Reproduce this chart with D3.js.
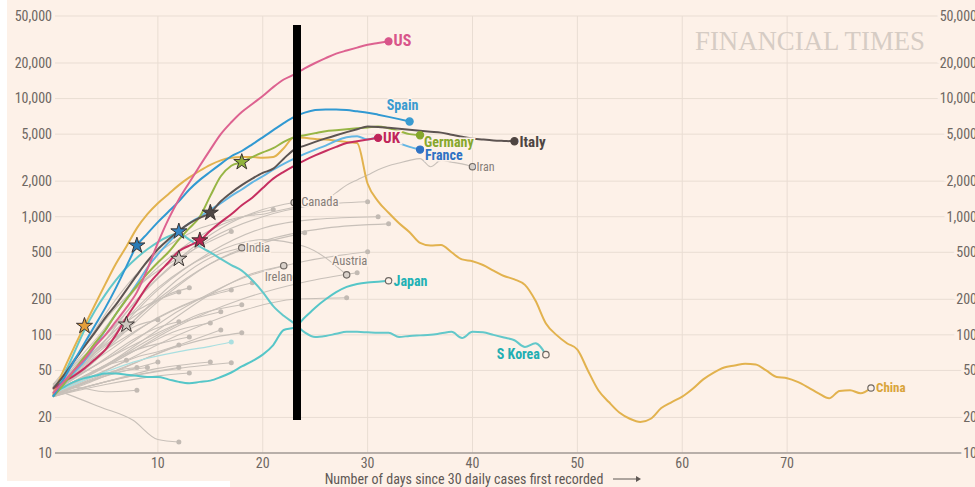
<!DOCTYPE html>
<html>
<head>
<meta charset="utf-8">
<script src="https://cdn.jsdelivr.net/npm/d3@7"></script>
<style>
	body { margin: 0; background: #fdf1e8; }
	svg { display: block; }
	text { font-family: "Liberation Sans Narrow", "Roboto Condensed", Roboto, sans-serif; }
</style>
</head>
<body>
<svg id="chart" width="975" height="487"></svg>
<script>
/**** DATA *****/
const yTicks = [10, 20, 50, 100, 200, 500, 1000, 2000, 5000, 10000, 20000, 50000];
const xTicks = [10, 20, 30, 40, 50, 60, 70];

// daily cases (3-day avg), index = days since 30 daily cases
const usCases = [32, 40, 50, 62, 80, 100, 130, 170, 230, 360, 600, 950, 1400, 1950, 2700, 3700, 5000, 6300, 7700, 9000, 10500, 12500, 14500, 16000, 18000, 20000, 22000, 24000, 25500, 27000, 28500, 29500, 30500];
const spainCases = [30, 42, 60, 85, 120, 170, 250, 380, 570, 720, 900, 1100, 1350, 1700, 2050, 2400, 2800, 3250, 3600, 4100, 4700, 5400, 6200, 7000, 7600, 8000, 8100, 8100, 8000, 7800, 7600, 7300, 7000, 6700, 6400];
const italyCases = [35, 45, 60, 80, 105, 140, 180, 240, 320, 420, 530, 640, 760, 880, 980, 1080, 1350, 1600, 1850, 2100, 2350, 2550, 3100, 3700, 4000, 4300, 4600, 4900, 5200, 5500, 5800, 5750, 5650, 5550, 5450, 5350, 5250, 5150, 4950, 4750, 4600, 4500, 4420, 4380, 4350];
const germanyCases = [30, 38, 50, 65, 85, 110, 150, 200, 260, 330, 410, 500, 640, 800, 1000, 1500, 2200, 2700, 2900, 3200, 3500, 3800, 4300, 4700, 4900, 5100, 5300, 5400, 5500, 5600, 5700, 5800, 5600, 5300, 5000, 4900];
const franceCases = [30, 38, 48, 60, 80, 110, 150, 200, 270, 370, 480, 600, 750, 880, 1000, 1150, 1300, 1500, 1700, 1950, 2200, 2500, 2800, 3100, 3400, 3700, 4000, 4400, 4700, 4800, 4500, 4700, 4600, 4200, 3900, 3700];
const ukCases = [35, 40, 45, 52, 62, 75, 100, 140, 190, 260, 330, 410, 510, 570, 630, 760, 900, 1050, 1250, 1450, 1750, 2100, 2400, 2700, 3000, 3300, 3600, 3900, 4200, 4350, 4500, 4650];
const chinaCases = [31, 50, 78, 119, 180, 270, 400, 560, 800, 1050, 1300, 1550, 1850, 2150, 2450, 2750, 3000, 3150, 3200, 3200, 3150, 3200, 3800, 4700, 4650, 4550, 4500, 4400, 4300, 4200, 1900, 1350, 1080, 880, 740, 600, 570, 575, 500, 435, 420, 390, 350, 315, 295, 265, 195, 125, 100, 85, 75, 50, 34, 27, 22, 19.5, 18.3, 19.5, 24, 27, 30, 35, 42, 48, 53, 55, 57, 56, 50, 44, 43, 40, 36, 32, 29, 33.5, 34, 32, 35.5];
const japanCases = [32, 36, 40, 43, 45, 47, 47, 46, 45, 44, 44, 42, 40, 39, 40, 41, 44, 48, 54, 60, 68, 82, 110, 115, 140, 170, 200, 230, 255, 270, 278, 282, 287];
const koreaCases = [30, 45, 70, 110, 160, 220, 290, 370, 450, 530, 610, 680, 720, 640, 557, 500, 440, 390, 350, 290, 230, 175, 145, 125, 105, 96, 98, 102, 106, 106, 105, 104, 104, 96, 98, 99, 100, 103, 106, 94, 106, 105, 100, 95, 90, 79, 85, 68];
const iranCases = [35, 45, 60, 80, 110, 150, 200, 260, 330, 410, 500, 570, 650, 720, 800, 850, 900, 950, 1000, 1030, 1050, 1100, 1150, 1200, 1250, 1300, 1380, 1600, 1850, 2050, 2250, 2500, 2700, 2850, 3000, 3100, 2650, 3000, 2900, 2800, 2650];

// labelled grey countries, [day, cases]
const canadaCases = [[0,34],[4,70],[8,200],[12,440],[16,800],[20,1150],[23,1320]];
const indiaCases = [[0,32],[4,60],[8,140],[12,300],[15,450],[18,546]];
const irelandCases = [[0,31],[5,55],[10,110],[15,220],[19,330],[22,385]];
const austriaCases = [[0,36],[5,90],[10,250],[15,480],[20,640],[24,560],[28,322]];
const paleTealCases = [[0,32],[4,45],[8,60],[12,72],[15,80],[17,87]];

// other countries, unlabelled
const otherCases = [
	[[0,32],[3,45],[5,55],[7,61]],
	[[0,30],[3,40],[6,50],[8,53]],
	[[0,33],[2,36],[5,33],[8,34]],
	[[0,31],[3,38],[6,48],[9,53]],
	[[0,35],[3,60],[6,95],[8,120],[10,134]],
	[[0,30],[4,42],[7,50],[10,59]],
	[[0,36],[3,65],[6,120],[9,180],[12,231]],
	[[0,33],[4,55],[8,95],[10,115],[12,129]],
	[[0,31],[4,45],[8,65],[10,72],[12,82]],
	[[0,30],[4,38],[8,46],[12,53]],
	[[0,35],[2,30],[4.5,24.5],[7.6,19],[10,13],[12,12.4]],
	[[0,34],[3,60],[6,110],[9,170],[11,220],[13,250]],
	[[0,32],[4,50],[8,75],[11,88],[13,96]],
	[[0,30],[5,38],[10,45],[13,47.6]],
	[[0,33],[4,48],[8,75],[12,110],[15,126]],
	[[0,31],[5,40],[10,52],[15,59]],
	[[0,34],[4,55],[8,85],[12,125],[16,157]],
	[[0,32],[5,45],[10,70],[14,95],[16,110]],
	[[0,35],[4,65],[8,110],[12,170],[15,215],[17,240]],
	[[0,30],[6,42],[12,52],[17,58]],
	[[0,38],[3,80],[6,170],[9,300],[12,450],[15,620],[17,750]],
	[[0,33],[5,55],[10,100],[14,150],[18,180]],
	[[0,31],[6,50],[12,80],[16,98],[18,104]],
	[[0,35],[5,70],[10,140],[15,220],[19,276]],
	[[0,37],[4,90],[8,250],[12,520],[16,850],[19,1050],[21,1150]],
	[[0,36],[5,80],[10,200],[15,400],[20,600],[24,730]],
	[[0,32],[6,55],[12,100],[18,160],[23,200],[28,206]],
	[[0,33],[6,60],[12,120],[18,200],[24,280],[29,335]],
	[[0,34],[6,70],[12,160],[18,300],[24,420],[30,505]],
	[[0,38],[5,100],[10,300],[15,650],[20,1000],[25,1250],[30,1340]],
	[[0,36],[5,85],[10,240],[15,500],[20,800],[25,950],[31,1000]],
	[[0,35],[5,75],[10,190],[15,400],[20,620],[26,800],[32,870]]
];

// lockdown stars [day, cases]
const stars = [
	{ c: 'China', d: [3, 119] },
	{ c: 'grey', d: [7, 122] },
	{ c: 'Spain', d: [8, 570] },
	{ c: 'France', d: [12, 750] },
	{ c: 'grey', d: [12, 440] },
	{ c: 'UK', d: [14, 630] },
	{ c: 'Italy', d: [15, 1080] },
	{ c: 'Germany', d: [18, 2900] }
];

/**** STYLE *****/
const bg = '#fdf1e8';
const lineColor = { US: '#dd6290', Spain: '#3199d2', France: '#62b6e4', Italy: '#5d5452', Germany: '#97b545', UK: '#c62f60', China: '#e2b24e', Japan: '#55c6c8', 'S Korea': '#62c8ca', grey: '#c8c0b9' };
const labelColor = { US: '#d8558a', Spain: '#3a9bd0', France: '#2f72c4', Italy: '#4e4542', Germany: '#86a72c', UK: '#c0245a', China: '#d9a43a', Japan: '#22b1b5', 'S Korea': '#22aeb2' };
const starColor = { China: '#e59f3a', Spain: '#2a7bb6', France: '#3586c4', UK: '#b5234f', Italy: '#4f4744', Germany: '#90b23d', grey: '#cfc8c1' };

const svg = d3.select('#chart');
const x = d3.scaleLinear().domain([0, 80]).range([53, 892]);
const y = d3.scaleLog().domain([10, 50000]).range([453, 16]);

const byDay = arr => arr.map((v, i) => [i, v]);
const line = d3.line().x(d => x(d[0])).y(d => y(d[1])).curve(d3.curveMonotoneX);

svg.append('rect').attr('width', 975).attr('height', 487).attr('fill', bg);

/**** GRID + AXES *****/
svg.append('g').selectAll('line').data(yTicks).join('line')
	.attr('x1', 55).attr('x2', 976)
	.attr('y1', d => y(d)).attr('y2', d => y(d))
	.attr('stroke', '#e9ddd3').attr('stroke-width', 1);
svg.append('g').selectAll('line').data(xTicks).join('line')
	.attr('x1', d => x(d)).attr('x2', d => x(d))
	.attr('y1', y(50000)).attr('y2', y(10))
	.attr('stroke', '#e9ddd3').attr('stroke-width', 1);
svg.append('line').attr('x1', 55).attr('x2', 976).attr('y1', y(10)).attr('y2', y(10))
	.attr('stroke', '#a59d97').attr('stroke-width', 1.5);

const fmt = d3.format(',');
svg.append('g').selectAll('text').data(yTicks).join('text')
	.text(d => fmt(d)).attr('x', 52).attr('y', d => y(d)).attr('dy', '0.35em')
	.attr('text-anchor', 'end').attr('font-size', 14).attr('fill', '#6e6762');
svg.append('g').selectAll('text').data(yTicks).join('text')
	.text(d => fmt(d)).attr('x', 977).attr('y', d => y(d)).attr('dy', '0.35em')
	.attr('text-anchor', 'end').attr('font-size', 14).attr('fill', '#6e6762')
	.attr('stroke', bg).attr('stroke-width', 6).attr('paint-order', 'stroke');
svg.append('g').selectAll('text').data(xTicks).join('text')
	.text(d => d).attr('x', d => x(d)).attr('y', 463).attr('dy', '0.35em')
	.attr('text-anchor', 'middle').attr('font-size', 14).attr('fill', '#6e6762');

svg.append('text').text('Number of days since 30 daily cases first recorded')
	.attr('x', 464).attr('y', 479).attr('dy', '0.35em').attr('text-anchor', 'middle')
	.attr('font-size', 14).attr('fill', '#5f5854');
svg.append('line').attr('x1', 613).attr('x2', 636).attr('y1', 479).attr('y2', 479)
	.attr('stroke', '#5f5854').attr('stroke-width', 1);
svg.append('path').attr('d', 'M636,476 L641,479 L636,482 Z').attr('fill', '#5f5854');

svg.append('text').text('FINANCIAL TIMES')
	.attr('x', 695).attr('y', 50).attr('textLength', 230).attr('lengthAdjust', 'spacingAndGlyphs')
	.attr('font-size', 27).attr('fill', '#d6ccc4')
	.style('font-family', '"Liberation Serif", "DejaVu Serif", serif');

/**** GREY LINES *****/
const greyG = svg.append('g');
const greyAll = otherCases.concat([canadaCases, indiaCases, irelandCases, austriaCases, byDay(iranCases)]);
greyG.selectAll('path').data(greyAll).join('path')
	.attr('d', line).attr('fill', 'none')
	.attr('stroke', lineColor.grey).attr('stroke-width', 1.1);
greyG.selectAll('circle').data(otherCases).join('circle')
	.attr('cx', d => x(d[d.length-1][0])).attr('cy', d => y(d[d.length-1][1]))
	.attr('r', 2.5).attr('fill', '#c2bab3');
svg.append('path').datum(paleTealCases).attr('d', line).attr('fill', 'none')
	.attr('stroke', '#a9dfe0').attr('stroke-width', 1.2);
svg.append('circle').attr('cx', x(17)).attr('cy', y(87)).attr('r', 2.5).attr('fill', '#a9dfe0');

/**** HIGHLIGHTED LINES *****/
const series = [
	{ name: 'Iran', data: byDay(iranCases), grey: true },
	{ name: 'Canada', data: canadaCases, grey: true },
	{ name: 'India', data: indiaCases, grey: true },
	{ name: 'Ireland', data: irelandCases, grey: true },
	{ name: 'Austria', data: austriaCases, grey: true },
	{ name: 'S Korea', data: byDay(koreaCases), hollow: true },
	{ name: 'Japan', data: byDay(japanCases), hollow: true },
	{ name: 'China', data: byDay(chinaCases), hollow: true },
	{ name: 'France', data: byDay(franceCases) },
	{ name: 'UK', data: byDay(ukCases) },
	{ name: 'Germany', data: byDay(germanyCases) },
	{ name: 'Italy', data: byDay(italyCases) },
	{ name: 'Spain', data: byDay(spainCases) },
	{ name: 'US', data: byDay(usCases) }
];
// label offsets from the end point
const labelPos = {
	US: { dx: 5, dy: -1, anchor: 'start', size: 16 },
	Spain: { dx: -7, dy: -16, anchor: 'middle', size: 14 },
	UK: { dx: 5, dy: 0, anchor: 'start', size: 15 },
	Germany: { dx: 4, dy: 7, anchor: 'start', size: 14 },
	France: { dx: 5, dy: 6, anchor: 'start', size: 14 },
	Italy: { dx: 5, dy: 0, anchor: 'start', size: 15 },
	Iran: { dx: 4, dy: 0, anchor: 'start', size: 12 },
	Canada: { dx: 7, dy: -1, anchor: 'start', size: 12.5 },
	India: { dx: 4, dy: 0, anchor: 'start', size: 12.5 },
	Ireland: { dx: -19, dy: 11, anchor: 'start', size: 12.5 },
	Austria: { dx: 3, dy: -14, anchor: 'middle', size: 12.5 },
	Japan: { dx: 5, dy: 0, anchor: 'start', size: 14 },
	'S Korea': { dx: -6, dy: -1, anchor: 'end', size: 14 },
	China: { dx: 5, dy: -1, anchor: 'start', size: 13 }
};

series.filter(s => !s.grey).forEach(s => {
	svg.append('path').datum(s.data).attr('d', line).attr('fill', 'none')
		.attr('stroke', lineColor[s.name]).attr('stroke-width', 2);
});

/**** STARS *****/
svg.append('g').selectAll('path').data(stars).join('path')
	.attr('d', d3.symbol(d3.symbolStar, 80))
	.attr('transform', d => `translate(${x(d.d[0])},${y(d.d[1])})`)
	.attr('fill', d => starColor[d.c]).attr('stroke', '#3b3431').attr('stroke-width', 1);

/**** END MARKERS + LABELS *****/
series.forEach(s => {
	const last = s.data[s.data.length-1];
	const cx = x(last[0]), cy = y(last[1]);
	const p = labelPos[s.name];
	svg.append('circle').attr('cx', cx).attr('cy', cy).attr('r', s.grey || s.hollow ? 3.2 : 3.6)
		.attr('fill', s.grey ? '#d9d1ca' : (s.hollow ? bg : labelColor[s.name]))
		.attr('stroke', s.grey ? '#6f6863' : (s.hollow ? '#6f6863' : labelColor[s.name]))
		.attr('stroke-width', 1.2);
	svg.append('text').text(s.name)
		.attr('x', cx + p.dx).attr('y', cy + p.dy).attr('dy', '0.35em')
		.attr('text-anchor', p.anchor).attr('font-size', p.size)
		.attr('font-weight', s.grey ? 'normal' : 'bold')
		.attr('fill', s.grey ? '#857d78' : labelColor[s.name])
		.attr('stroke', bg).attr('stroke-width', 3).attr('paint-order', 'stroke');
});

/**** OVERLAYS *****/
svg.append('rect').attr('x', 293).attr('y', 25).attr('width', 8).attr('height', 395).attr('fill', '#000');
svg.append('rect').attr('x', 0).attr('y', 0).attr('width', 7).attr('height', 487).attr('fill', '#fff');
svg.append('rect').attr('x', 0).attr('y', 481).attr('width', 230).attr('height', 6).attr('fill', '#fff');
</script>
</body>
</html>
